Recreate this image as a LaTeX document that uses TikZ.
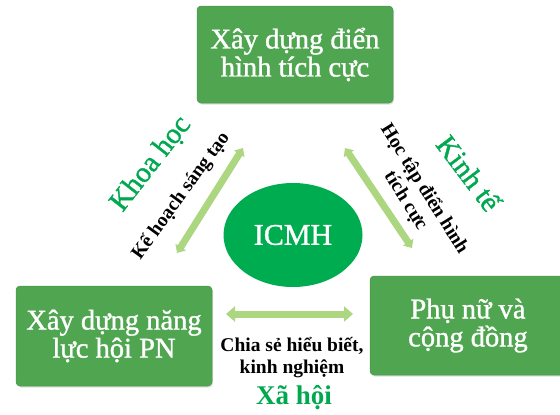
\documentclass[tikz,border=0pt]{standalone}
\usepackage{fontspec}
\setmainfont{Liberation Serif}
\newfontfamily\semifont[FakeBold=1.2]{Liberation Serif}
\usepackage{tikz}
\usetikzlibrary{arrows.meta, shadows, shapes.geometric}
\definecolor{boxgreen}{RGB}{80,166,80}
\definecolor{ovalgreen}{RGB}{0,172,80}
\definecolor{textgreen}{RGB}{0,168,80}
\definecolor{arrowgreen}{RGB}{172,214,128}

\begin{document}
\begin{tikzpicture}[x=1pt, y=-1pt,
  box/.style={fill=boxgreen, draw=boxgreen!90!black, line width=0.5pt, rounded corners=4pt,
    text=white, align=center, inner sep=0pt, minimum width=196pt, font=\fontsize{28.5}{28}\semifont,
    drop shadow={opacity=0.25, shadow xshift=1pt, shadow yshift=-1.5pt}},
  link/.style={draw=arrowgreen, line width=7pt, {Triangle[length=7pt,width=12pt]}-{Triangle[length=7pt,width=12pt]}},
  field/.style={text=textgreen, font=\fontsize{29}{32}\semifont},
  note/.style={align=center, font=\fontsize{19.5}{22}\selectfont\bfseries}]
  \useasboundingbox (0,0) rectangle (560,415);
  % boxes
  \node[box, minimum height=97pt] (top) at (295,54.5) {Xây dựng điển\\hình tích cực};
  \node[box, minimum height=100pt] (left) at (114,336) {Xây dựng năng\\lực hội PN};
  \node[box, minimum height=99pt] (right) at (468,325.5) {Phụ nữ và\\cộng đồng};
  % centre
  \node[ellipse, fill=ovalgreen, minimum width=139pt, minimum height=104pt, text=white,
    font=\fontsize{30}{32}\semifont] (icmh) at (293,235) {ICMH};
  % arrows
  \coordinate (kh-a) at (177,253);
  \coordinate (kh-b) at (243,148);
  \coordinate (kt-a) at (345,148);
  \coordinate (kt-b) at (412,248);
  \coordinate (xh-a) at (226,314);
  \coordinate (xh-b) at (353,314);
  \draw[link] (kh-a) -- (kh-b);
  \draw[link] (kt-a) -- (kt-b);
  \draw[link, {Triangle[length=9pt,width=15pt]}-{Triangle[length=9pt,width=15pt]}] (xh-a) -- (xh-b);
  % labels
  \node[field, rotate=52] (khoa) at (151,164) {Khoa học};
  \node[note, rotate=54] (kehoach) at (181,196) {Kế hoạch sáng tạo};
  \node[field, rotate=-53] (kinhte) at (469,173) {Kinh tế};
  \node[note, rotate=-58] (hoctap) at (415,195) {Học tập điển hình\\tích cực};
  \node[note] (chiase) at (292,358) {Chia sẻ hiểu biết,\\kinh nghiệm};
  \node[field, font=\fontsize{27}{30}\selectfont\bfseries] (xahoi) at (294,398) {Xã hội};
\end{tikzpicture}
\end{document}
